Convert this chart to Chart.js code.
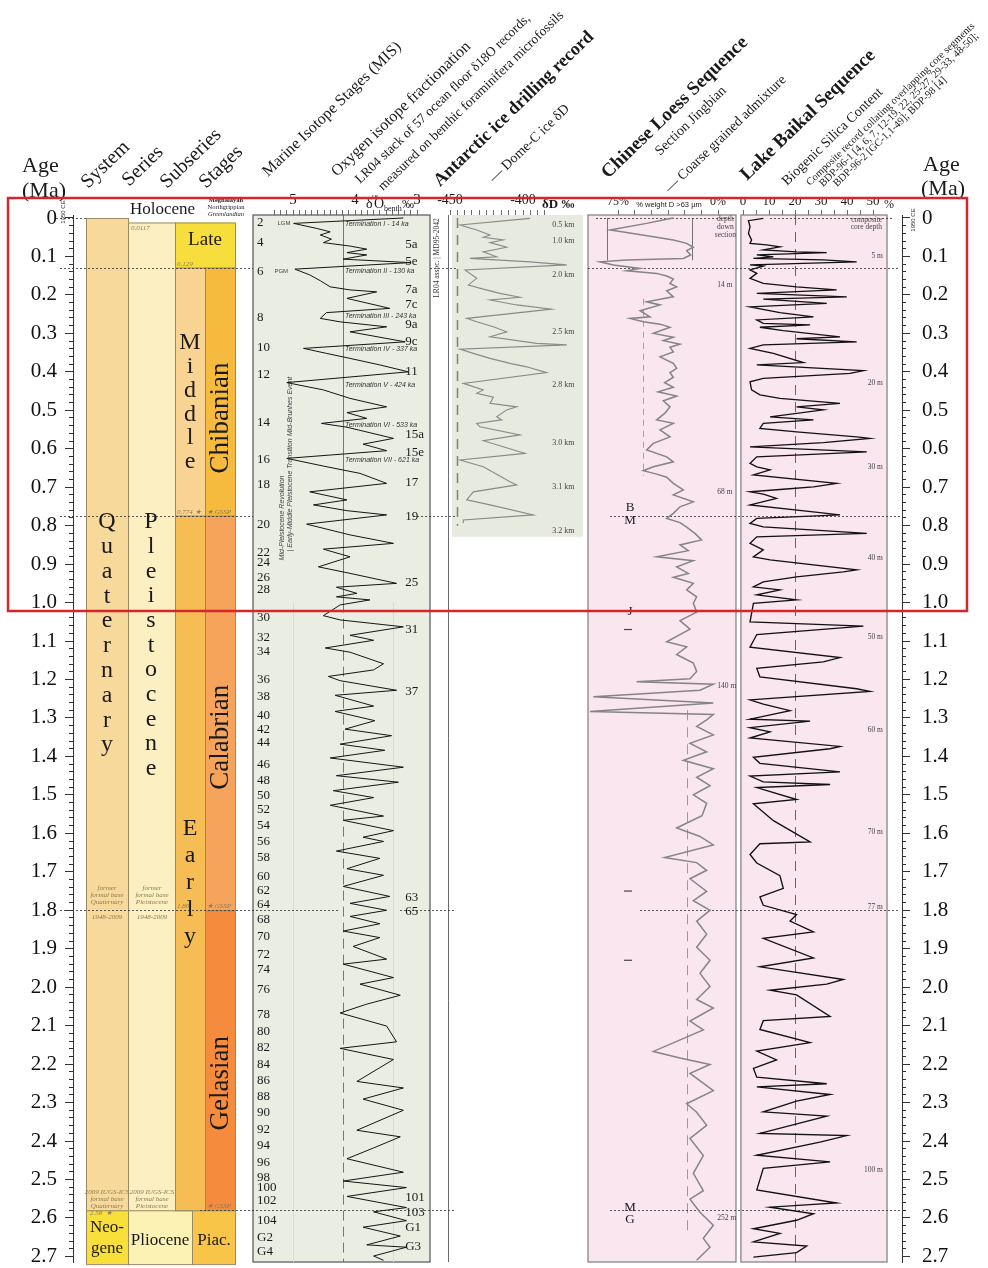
<!DOCTYPE html>
<html>
<head>
<meta charset="utf-8">
<script src="https://cdn.jsdelivr.net/npm/chart.js@4.4.1/dist/chart.umd.min.js"></script>
<style>
  html, body { margin: 0; padding: 0; background: #fff; }
  #chart { display: block; }
</style>
</head>
<body>
<canvas id="chart" width="988" height="1268"></canvas>
<script>
// ---------- data (ages in Ma) ----------
const ageTicks = [0, 0.1, 0.2, 0.3, 0.4, 0.5, 0.6, 0.7, 0.8, 0.9, 1.0, 1.1, 1.2, 1.3, 1.4,
  1.5, 1.6, 1.7, 1.8, 1.9, 2.0, 2.1, 2.2, 2.3, 2.4, 2.5, 2.6, 2.7];

// chronostratigraphic units
const unitNames = ['Quaternary', 'Neogene', 'Pleistocene', 'Pliocene', 'Late', 'Middle', 'Early',
  'Chibanian', 'Calabrian', 'Gelasian', 'Piac.'];
const unitTop  = [0, 2.58, 0.0117, 2.58, 0.0117, 0.129, 0.774, 0.129, 0.774, 1.80, 2.58];
const unitBase = [2.58, 2.72, 2.58, 2.72, 0.129, 0.774, 2.58, 0.774, 1.80, 2.58, 2.72];
const boundaryAges = [0, 0.129, 0.774, 1.80, 2.58];

// LR04 benthic d18O stack
const lr04Age = [0.000, 0.014, 0.027, 0.036, 0.044, 0.055, 0.064, 0.073, 0.081, 0.090, 0.096, 0.107, 0.116,
  0.133, 0.148, 0.163, 0.179, 0.187, 0.192, 0.209, 0.235, 0.246, 0.261, 0.270, 0.283, 0.296, 0.322, 0.339,
  0.352, 0.365, 0.382, 0.400, 0.428, 0.447, 0.469, 0.491, 0.506, 0.521, 0.534, 0.544, 0.573, 0.588, 0.605,
  0.625, 0.645, 0.664, 0.690, 0.712, 0.733, 0.746, 0.761, 0.772, 0.796, 0.824, 0.846, 0.861, 0.881, 0.907,
  0.924, 0.950, 0.960, 0.976, 0.985, 0.993, 1.006,
  1.034, 1.045, 1.063, 1.085, 1.098, 1.118, 1.129, 1.159, 1.175, 1.192, 1.203, 1.228, 1.241, 1.269, 1.283,
  1.307, 1.329, 1.346, 1.368, 1.384, 1.404, 1.428, 1.450, 1.467, 1.489, 1.507, 1.527, 1.555, 1.566, 1.593,
  1.610, 1.621, 1.646, 1.665, 1.692, 1.709, 1.738, 1.764, 1.782, 1.800, 1.816, 1.835, 1.854, 1.871, 1.894,
  1.927, 1.940, 1.975, 1.992, 2.021, 2.044, 2.067, 2.101, 2.142, 2.159, 2.188, 2.245, 2.262, 2.291, 2.320,
  2.372, 2.389, 2.418, 2.446, 2.481, 2.504, 2.521, 2.544, 2.573, 2.584, 2.607, 2.624, 2.647, 2.670, 2.676,
  2.699, 2.710];
const lr04D18O = [3.22, 4.99, 4.62, 4.40, 4.56, 4.38, 4.51, 4.08, 3.81, 4.13, 3.81, 4.19, 3.11,
  4.97, 4.73, 4.56, 4.40, 4.08, 3.65, 4.13, 3.44, 4.46, 4.56, 4.24, 3.49, 4.08, 3.19, 4.83,
  4.46, 4.08, 3.60, 3.14, 5.10, 4.51, 4.08, 3.49, 4.13, 3.81, 4.54, 4.13, 3.38, 3.87, 3.49,
  5.10, 4.51, 3.92, 3.49, 4.73, 4.13, 4.67, 4.13, 3.49, 4.78, 4.08, 3.38, 4.51, 4.08, 4.59,
  4.08, 3.33, 4.30, 3.97, 4.30, 3.76, 4.24,
  4.51, 4.24, 3.22, 4.08, 3.70, 4.48, 4.08, 3.54, 3.70, 4.43, 4.24, 3.33, 4.32, 3.70, 4.32,
  3.68, 4.16, 3.41, 4.24, 3.52, 4.40, 3.22, 4.30, 3.30, 4.35, 3.70, 4.40, 3.54, 4.19, 3.38,
  3.87, 3.54, 4.30, 3.60, 4.13, 3.54, 4.19, 3.44, 4.08, 3.49, 4.08, 3.60, 4.19, 3.60, 4.03,
  3.49, 4.19, 3.38, 3.92, 3.27, 3.81, 4.24, 3.49, 3.33, 4.24, 3.38, 3.97, 3.22, 3.87, 3.22,
  3.97, 3.27, 3.70, 4.13, 3.22, 4.19, 3.17, 4.13, 3.17, 3.70, 3.17, 3.87, 3.27, 3.81, 3.17,
  3.70, 3.54];

// Dome-C ice core dD
const dcAge = [0.001, 0.018, 0.031, 0.044, 0.050, 0.057, 0.064, 0.076, 0.088, 0.101, 0.105, 0.114, 0.122,
  0.135, 0.157, 0.174, 0.185, 0.196, 0.206, 0.213, 0.226, 0.237, 0.261, 0.270, 0.283, 0.296, 0.309, 0.326,
  0.330, 0.341, 0.352, 0.365, 0.378, 0.387, 0.402, 0.430, 0.447, 0.456, 0.466, 0.482, 0.491, 0.499, 0.517,
  0.525, 0.534, 0.543, 0.564, 0.579, 0.595, 0.612, 0.629, 0.647, 0.686, 0.694, 0.712, 0.733, 0.746, 0.772,
  0.785, 0.794];
const dcDeltaD = [-395.2, -443.2, -431.7, -422.6, -427.2, -413.5, -422.6, -411.2, -427.2, -418.0, -436.3, -395.2, -370.1,
  -439.7, -431.7, -437.4, -427.2, -415.8, -402.1, -422.6, -404.3, -380.4, -438.6, -431.7, -420.3, -411.2, -422.6, -390.6,
  -370.1, -443.2, -434.0, -422.6, -408.9, -397.5, -383.8, -440.9, -427.2, -431.7, -420.3, -422.6, -404.3, -411.2, -418.0,
  -414.6, -431.7, -429.5, -402.1, -427.2, -413.5, -398.6, -443.2, -427.2, -408.9, -404.3, -434.0, -438.6, -422.6, -392.9,
  -440.9, -440.9];

// Chinese loess, Jingbian: coarse grained admixture (% weight > 63 um)
const loessAge = [0.000, 0.003, 0.014, 0.031, 0.038, 0.049, 0.057, 0.066, 0.076, 0.085, 0.096, 0.105, 0.109,
  0.114, 0.122, 0.131, 0.137, 0.144, 0.151, 0.159, 0.170, 0.179, 0.189, 0.205, 0.218, 0.226, 0.241, 0.257,
  0.261, 0.270, 0.276, 0.284, 0.300, 0.310, 0.319, 0.328, 0.336, 0.348, 0.361, 0.378, 0.391, 0.402, 0.414,
  0.428, 0.440, 0.452, 0.463, 0.475, 0.491, 0.508, 0.525, 0.534, 0.551, 0.569, 0.586, 0.603, 0.621, 0.634,
  0.647, 0.657, 0.666, 0.674, 0.690, 0.707, 0.720, 0.738, 0.751, 0.768, 0.781, 0.792, 0.804, 0.820, 0.837,
  0.850, 0.865, 0.881, 0.891, 0.907, 0.924, 0.934, 0.950, 0.967, 0.985, 1.002,
  1.025, 1.047, 1.069, 1.102, 1.115, 1.135, 1.157, 1.179, 1.198, 1.206, 1.212, 1.228, 1.245, 1.261, 1.283,
  1.291, 1.305, 1.322, 1.344, 1.366, 1.388, 1.410, 1.432, 1.454, 1.476, 1.500, 1.522, 1.554, 1.586, 1.608,
  1.630, 1.663, 1.676, 1.696, 1.718, 1.751, 1.775, 1.800, 1.828, 1.862, 1.896, 1.930, 1.964, 1.998, 2.032,
  2.054, 2.088, 2.111, 2.167, 2.184, 2.201, 2.224, 2.269, 2.303, 2.325, 2.359, 2.393, 2.438, 2.484, 2.529,
  2.551, 2.585, 2.602, 2.619, 2.653, 2.676, 2.710];
const loessCoarse = [33.5, 38.5, 53.5, 81, 68.5, 48.5, 33.5, 23.5, 18.5, 23.5, 20.5, 26, 68.5,
  88.5, 78.5, 58.5, 68.5, 46, 38.5, 33.5, 36, 31, 38.5, 33.5, 53.5, 43.5, 58.5, 51,
  66, 56, 43.5, 36, 48.5, 33.5, 41, 28.5, 36, 33.5, 43.5, 33.5, 31, 36, 33.5,
  40, 33.5, 45, 31, 41, 36, 40, 46, 33.5, 43.5, 36, 48.5, 53.5, 38.5, 33.5,
  48.5, 56, 46, 38.5, 33.5, 26, 33.5, 18.5, 28.5, 33.5, 38.5, 28.5, 23.5, 17.3, 12.3,
  28.5, 22.3, 46, 18.5, 31, 22.3, 33.5, 18.5, 23.5, 16, 18.5,
  16, 28.5, 21, 38.5, 23.5, 31, 18.5, 16, 21, 61, 3.5, 13.5, 93.5, 3.5, 96,
  3.5, 8.5, 16, 3.5, 21, 8.5, 26, 3.5, 16, 6, 18.5, 8.5, 12, 31, 13.5,
  3.5, 40, 16, 8.5, 21, 8.5, 18.5, 6, 16, 8.5, 16, 6, 13.5, 6, 16,
  3.5, 21, 11, 48.5, 28.5, 6, 21, 3.5, 23.5, 16, 8.5, 21, 11, 18.5, 11,
  21, 13.5, 8.5, 3.5, 11, 6, 16];
const loessMarkAge = [1.07, 1.75, 1.93];
const loessMarkValue = 67.5;

// Lake Baikal biogenic silica (%)
const baikalAge = [0.001, 0.007, 0.023, 0.040, 0.057, 0.066, 0.070, 0.075, 0.083, 0.088, 0.090, 0.096, 0.101,
  0.105, 0.109, 0.114, 0.122, 0.125, 0.135, 0.144, 0.157, 0.170, 0.179, 0.187, 0.196, 0.205, 0.211, 0.222,
  0.231, 0.246, 0.257, 0.265, 0.274, 0.278, 0.284, 0.293, 0.309, 0.314, 0.322, 0.330, 0.339, 0.352, 0.376,
  0.382, 0.397, 0.404, 0.417, 0.426, 0.447, 0.460, 0.469, 0.482, 0.491, 0.499, 0.517, 0.525, 0.534, 0.547,
  0.556, 0.569, 0.573, 0.584, 0.595, 0.608, 0.621, 0.638, 0.647, 0.655, 0.668, 0.690, 0.699, 0.706, 0.712,
  0.718, 0.729, 0.746, 0.766, 0.772, 0.781, 0.794, 0.803, 0.820, 0.829, 0.846, 0.863, 0.881, 0.889, 0.915,
  0.920, 0.933, 0.946, 0.959, 0.967, 0.980, 0.993, 1.002,
  1.050, 1.061, 1.083, 1.116, 1.143, 1.154, 1.171, 1.193, 1.224, 1.231, 1.253, 1.264, 1.281, 1.303, 1.308,
  1.325, 1.336, 1.352, 1.374, 1.380, 1.402, 1.418, 1.440, 1.451, 1.466, 1.473, 1.481, 1.512, 1.523, 1.567,
  1.622, 1.627, 1.655, 1.677, 1.710, 1.743, 1.765, 1.787, 1.811, 1.828, 1.856, 1.873, 1.924, 1.947, 1.980,
  1.992, 2.008, 2.020, 2.076, 2.087, 2.110, 2.144, 2.166, 2.189, 2.211, 2.234, 2.251, 2.259, 2.279, 2.296,
  2.324, 2.335, 2.380, 2.386, 2.403, 2.437, 2.454, 2.471, 2.527, 2.561, 2.572, 2.589, 2.606, 2.628, 2.640,
  2.662, 2.673, 2.690, 2.702];
const baikalSilica = [7.8, 2.1, 2.7, 2.1, 3.3, 2.7, 9.1, 14.2, 7.8, 20.6, 32.2, 5.3, 11.7,
  4.0, 30.9, 43.7, 2.7, 7.8, 2.7, 5.3, 2.7, 7.8, 20.6, 36.0, 5.3, 39.9, 7.8, 32.2,
  2.7, 14.2, 27.1, 5.3, 7.8, 25.8, 6.5, 15.5, 37.3, 20.6, 43.7, 7.8, 2.7, 11.7, 23.2,
  5.3, 46.3, 41.2, 7.8, 2.7, 3.3, 6.5, 14.2, 37.3, 20.6, 30.9, 10.4, 27.1, 7.8, 6.5,
  20.6, 43.7, 48.8, 30.9, 2.7, 47.6, 5.3, 2.7, 5.3, 10.4, 4.0, 36.0, 27.1, 14.2, 2.7,
  7.8, 12.9, 2.7, 29.6, 37.3, 5.3, 2.7, 7.8, 47.6, 5.3, 2.7, 7.8, 4.0, 10.4, 43.7,
  38.6, 20.6, 7.8, 4.0, 14.2, 5.3, 20.6, 4.0,
  2.7, 46.3, 5.3, 2.7, 37.3, 30.9, 5.3, 6.5, 43.7, 48.8, 2.7, 7.8, 18.1, 2.7, 25.8,
  2.7, 10.4, 2.7, 37.3, 33.5, 4.0, 6.5, 37.3, 2.7, 7.8, 33.5, 5.3, 20.6, 4.0, 11.7,
  25.8, 6.5, 2.7, 5.3, 14.2, 15.5, 6.5, 7.8, 20.6, 18.1, 27.1, 7.8, 27.1, 6.5, 38.6,
  32.2, 10.4, 20.6, 33.5, 7.8, 6.5, 25.8, 5.3, 12.9, 4.0, 5.3, 32.2, 5.3, 33.5, 20.6,
  7.8, 32.2, 6.5, 39.9, 29.6, 5.3, 33.5, 7.8, 5.3, 36.0, 10.4, 27.1, 20.6, 4.0, 14.2,
  4.0, 24.5, 20.6, 4.0];

// marine isotope stage labels
const misEven = ['2', '4', '6', '8', '10', '12', '14', '16', '18', '20', '22', '24', '26', '28', '30', '32', '34',
  '36', '38', '40', '42', '44', '46', '48', '50', '52', '54', '56', '58', '60', '62', '64', '68', '70', '72', '74',
  '76', '78', '80', '82', '84', '86', '88', '90', '92', '94', '96', '98', '100', '102', '104', 'G2', 'G4'];
const misEvenAge = [0.013, 0.065, 0.140, 0.260, 0.338, 0.408, 0.533, 0.629, 0.694, 0.798, 0.871, 0.897, 0.936,
  0.967, 1.040, 1.092, 1.128, 1.201, 1.245, 1.295, 1.329, 1.365, 1.422, 1.464, 1.503, 1.539, 1.581, 1.622,
  1.664, 1.713, 1.750, 1.786, 1.825, 1.869, 1.914, 1.955, 2.007, 2.072, 2.116, 2.156, 2.200, 2.244, 2.285,
  2.327, 2.369, 2.413, 2.455, 2.496, 2.522, 2.556, 2.608, 2.650, 2.688];
const misPeak = ['5a', '5e', '7a', '7c', '9a', '9c', '11', '15a', '15e', '17', '19', '25', '31', '37', '63', '65',
  '101', '103', 'G1', 'G3'];
const misPeakAge = [0.070, 0.114, 0.187, 0.226, 0.278, 0.322, 0.400, 0.564, 0.611, 0.689, 0.777, 0.949, 1.071,
  1.232, 1.768, 1.804, 2.548, 2.587, 2.626, 2.675];
const termLabels = ['Termination I - 14 ka', 'Termination II - 130 ka', 'Termination III - 243 ka',
  'Termination IV - 337 ka', 'Termination V - 424 ka', 'Termination VI - 533 ka', 'Termination VII - 621 ka'];
const termAge = [0.016, 0.138, 0.255, 0.341, 0.434, 0.538, 0.629];

// depth annotations
const dcDepth = ['0.5 km', '1.0 km', '2.0 km', '2.5 km', '2.8 km', '3.0 km', '3.1 km', '3.2 km'];
const dcDepthAge = [0.018, 0.060, 0.148, 0.296, 0.434, 0.585, 0.699, 0.814];
const loessDepth = ['14 m', '68 m', '140 m', '252 m'];
const loessDepthAge = [0.174, 0.712, 1.217, 2.600];
const baikalDepth = ['5 m', '20 m', '30 m', '40 m', '50 m', '60 m', '70 m', '77 m', '100 m'];
const baikalDepthAge = [0.099, 0.429, 0.647, 0.884, 1.089, 1.331, 1.596, 1.791, 2.475];
const polarity = ['B', 'M', 'J', 'M', 'G'];
const polarityAge = [0.754, 0.788, 1.024, 2.574, 2.605];

// ---------- layout & style ----------
const SERIF = "'Liberation Serif', 'DejaVu Serif', serif";
const SANS = "'Liberation Sans', 'DejaVu Sans', sans-serif";
const L = 73, R = 902;               // plot area edges (px)
const ageMin = -0.0078, ageMax = 2.7145;

function mapRange(p0, v0, p1, v1) {
  const k = (v1 - v0) / (p1 - p0);
  const a = v0 + (L - p0) * k, b = v0 + (R - p0) * k;
  return k > 0 ? { min: a, max: b, reverse: false } : { min: b, max: a, reverse: true };
}
const rLR = mapRange(293, 5, 417, 3);
const rDC = mapRange(450, -450, 523, -400);
const rLS = mapRange(618, 75, 718, 0);
const rBK = mapRange(743, 0, 795, 20);

const unitSpan = {
  Quaternary: [86, 128], Neogene: [86, 128], Pleistocene: [128, 175], Pliocene: [128, 192],
  Late: [175, 235], Middle: [175, 205], Early: [175, 205],
  Chibanian: [205, 235], Calabrian: [205, 235], Gelasian: [205, 235], 'Piac.': [192, 235]
};
const unitColor = {
  Quaternary: '#F8D99C', Neogene: '#F9DF3A', Pleistocene: '#FCEFC2', Pliocene: '#FCF2B4',
  Late: '#F8DE3C', Middle: '#F9D391', Early: '#F7BD55',
  Chibanian: '#F6BA3E', Calabrian: '#F6A35B', Gelasian: '#F58C3D', 'Piac.': '#F8C548'
};
const boundarySpans = [
  [[56, 86], [596, 736], [770, 892]],
  [[60, 253], [430, 456], [588, 900]],
  [[60, 253], [413, 456], [610, 900]],
  [[60, 340], [400, 456], [640, 900]],
  [[200, 456], [610, 900]]
];
const panels = [
  { axis: 'xLR', from: 5.645, to: 2.79, top: ageMin, base: ageMax, fill: '#EAEDE2', stroke: '#555' },
  { axis: 'xDC', from: -448.6, to: -358.9, top: ageMin, base: 0.829, fill: '#E7EADE', stroke: null },
  { axis: 'xLS', from: 97.5, to: -13.5, top: ageMin, base: ageMax, fill: '#FAE6EE', stroke: '#7d7d7d' },
  { axis: 'xBK', from: -0.8, to: 55.4, top: ageMin, base: ageMax, fill: '#FAE6EE', stroke: '#7d7d7d' }
];
const refLines = [
  { axis: 'xLR', v: 5.0, from: 1.0, to: ageMax, color: '#d9dccf', w: 1, dash: [] },
  { axis: 'xLR', v: 3.39, from: 1.0, to: ageMax, color: '#d9dccf', w: 1, dash: [] },
  { axis: 'xLR', v: 4.19, from: ageMin, to: 1.0, color: '#6a6a6a', w: 0.9, dash: [] },
  { axis: 'xLR', v: 4.19, from: 1.0, to: ageMax, color: '#6a6a6a', w: 0.9, dash: [10, 6] },
  { axis: 'xDC', v: -451.4, from: ageMin, to: ageMax, color: '#6a6a6a', w: 1, dash: [] },
  { axis: 'xDC', v: -445.4, from: 0.0, to: 0.80, color: '#808080', w: 1.5, dash: [10, 7] },
  { axis: 'xLS', v: 83.5, from: 0.0, to: 0.11, color: '#555', w: 0.8, dash: [] },
  { axis: 'xLS', v: 19.25, from: 0.0, to: 0.11, color: '#555', w: 0.8, dash: [] },
  { axis: 'xLS', v: 56.3, from: 0.21, to: 0.67, color: '#9a9a9a', w: 0.9, dash: [6, 5] },
  { axis: 'xLS', v: 23.5, from: 1.28, to: 2.64, color: '#9a9a9a', w: 1, dash: [10, 7] },
  { axis: 'xBK', v: 20, from: ageMin, to: ageMax, color: '#555', w: 0.9, dash: [10, 7] }
];
const letterCols = [
  { text: 'Quaternary', x: 107, age: 0.790, step: 24.8 },
  { text: 'Pleistocene', x: 151, age: 0.790, step: 24.7 },
  { text: 'Middle', x: 190, age: 0.325, step: 23.8 },
  { text: 'Early', x: 190, age: 1.589, step: 27 }
];
const stageNames = [['Chibanian', 0.52], ['Calabrian', 1.35], ['Gelasian', 2.25]];

// ---------- helpers ----------
function put(ctx, s, x, y, font, o = {}) {
  ctx.save();
  ctx.font = font;
  ctx.fillStyle = o.color || '#1a1a1a';
  ctx.textAlign = o.align || 'left';
  ctx.textBaseline = o.base || 'alphabetic';
  ctx.translate(x, y);
  if (o.rot) ctx.rotate(o.rot * Math.PI / 180);
  ctx.fillText(s, 0, 0);
  ctx.restore();
}
function series(axis, ages, vals, color, w) {
  return {
    xAxisID: axis, yAxisID: 'y', showLine: true, borderColor: color, borderWidth: w,
    pointRadius: 0, tension: 0, fill: false,
    data: ages.map((a, i) => ({ x: vals[i], y: a }))
  };
}
function topAxis(r, step, lo, hi, label, size) {
  return {
    type: 'linear', position: 'top', min: r.min, max: r.max, reverse: r.reverse,
    afterFit: s => { s.height = 0; s.paddingLeft = 0; s.paddingRight = 0; },
    afterBuildTicks: s => { s.ticks = s.ticks.filter(t => t.value >= lo - 1e-6 && t.value <= hi + 1e-6); },
    border: { display: false },
    grid: { drawOnChartArea: false, tickLength: 5, color: '#444', lineWidth: 0.8 },
    ticks: { stepSize: step, autoSkip: false, maxRotation: 0, minRotation: 0, padding: 1,
      color: '#1a1a1a', font: { family: SERIF, size }, callback: label }
  };
}
function ageAxis(position, width, weight, major) {
  return {
    type: 'linear', position, reverse: true, min: ageMin, max: ageMax, weight,
    afterFit: s => { s.width = width; s.paddingTop = 0; s.paddingBottom = 0; },
    afterBuildTicks: major
      ? s => { s.ticks = ageTicks.map(v => ({ value: v })); }
      : s => { s.ticks = s.ticks.filter(t => t.value >= -1e-6 && t.value <= 2.7 + 1e-6); },
    border: { display: major, color: '#333', width: 1 },
    grid: { drawOnChartArea: false, tickLength: major ? 8 : 4, color: '#333', lineWidth: 1 },
    ticks: major
      ? { color: '#111', padding: position === 'left' ? 8 : 12, font: { family: SERIF, size: 21 },
          callback: v => (v === 0 ? '0' : v.toFixed(1)) }
      : { display: false, stepSize: 0.02, includeBounds: false }
  };
}

// ---------- drawing plugin ----------
const decor = {
  id: 'decor',
  afterLayout(chart) {
    // top axes were fitted with zero height; give their label strip room so it is not clipped
    Object.values(chart.scales).forEach(s => {
      if (s.options.position === 'top' && s.options.display) s.top = s.bottom - 30;
    });
  },
  beforeDatasetsDraw(chart) {
    const { ctx, scales } = chart;
    const y = scales.y, xs = scales.xS;
    // strat units
    unitNames.forEach((n, i) => {
      const [a, b] = unitSpan[n];
      const x0 = xs.getPixelForValue(a), x1 = xs.getPixelForValue(b);
      const y0 = y.getPixelForValue(unitTop[i]), y1 = y.getPixelForValue(unitBase[i]);
      ctx.fillStyle = unitColor[n];
      ctx.fillRect(x0, y0, x1 - x0, y1 - y0);
      ctx.strokeStyle = '#9a8865';
      ctx.lineWidth = 1;
      ctx.strokeRect(x0 + 0.5, y0 + 0.5, x1 - x0, y1 - y0);
    });
    // panels
    panels.forEach(p => {
      const sx = scales[p.axis];
      const a = sx.getPixelForValue(p.from), b = sx.getPixelForValue(p.to);
      const x0 = Math.min(a, b), w = Math.abs(b - a);
      const y0 = y.getPixelForValue(p.top), y1 = y.getPixelForValue(p.base);
      ctx.fillStyle = p.fill;
      ctx.fillRect(x0, y0, w, y1 - y0);
      if (p.stroke) {
        ctx.strokeStyle = p.stroke;
        ctx.lineWidth = 1.2;
        ctx.strokeRect(x0, y0, w, y1 - y0);
      }
    });
    // reference lines
    refLines.forEach(r => {
      const x = Math.round(scales[r.axis].getPixelForValue(r.v)) + 0.5;
      ctx.save();
      ctx.strokeStyle = r.color; ctx.lineWidth = r.w; ctx.setLineDash(r.dash);
      ctx.beginPath();
      ctx.moveTo(x, y.getPixelForValue(r.from));
      ctx.lineTo(x, y.getPixelForValue(r.to));
      ctx.stroke();
      ctx.restore();
    });
    // boundary dotted lines
    ctx.save();
    ctx.strokeStyle = '#333'; ctx.lineWidth = 0.8; ctx.setLineDash([2, 2]);
    boundaryAges.forEach((age, i) => {
      const yy = Math.round(y.getPixelForValue(age)) + 0.5;
      boundarySpans[i].forEach(([a, b]) => {
        ctx.beginPath();
        ctx.moveTo(xs.getPixelForValue(a), yy);
        ctx.lineTo(xs.getPixelForValue(b), yy);
        ctx.stroke();
      });
    });
    ctx.restore();
  },
  afterDatasetsDraw(chart) {
    const { ctx, scales } = chart;
    const y = scales.y, xs = scales.xS;
    const X = (ax, v) => scales[ax].getPixelForValue(v);
    const Y = a => y.getPixelForValue(a);

    // strat labels
    letterCols.forEach(c => {
      const y0 = Y(c.age);
      [...c.text].forEach((ch, i) => put(ctx, ch, xs.getPixelForValue(c.x), y0 + i * c.step,
        `24px ${SERIF}`, { align: 'center', base: 'middle' }));
    });
    stageNames.forEach(([n, a]) => put(ctx, n, xs.getPixelForValue(221), Y(a), `27px ${SERIF}`,
      { align: 'center', base: 'middle', rot: -90 }));
    put(ctx, 'Late', 205, Y(0.058), `19px ${SERIF}`, { align: 'center', base: 'middle' });
    put(ctx, 'Holocene', 130, 214, `17px ${SERIF}`);
    put(ctx, 'Meghalayan', 226, 202, `bold 6.5px ${SERIF}`, { align: 'center' });
    put(ctx, 'Northgrippian', 226, 209, `6.5px ${SERIF}`, { align: 'center' });
    put(ctx, 'Greenlandian', 226, 216, `italic 6.5px ${SERIF}`, { align: 'center' });
    put(ctx, 'Neo-', 107, Y(2.62) + 6, `17px ${SERIF}`, { align: 'center' });
    put(ctx, 'gene', 107, Y(2.675) + 6, `17px ${SERIF}`, { align: 'center' });
    put(ctx, 'Pliocene', 160, Y(2.655) + 6, `17px ${SERIF}`, { align: 'center' });
    put(ctx, 'Piac.', 214, Y(2.655) + 6, `17px ${SERIF}`, { align: 'center' });
    const tiny = `italic 7px ${SERIF}`, tc = { color: '#8d7b52' };
    put(ctx, '0.0117', 131, Y(0.0117) + 8, tiny, tc);
    put(ctx, '0.129', 177, Y(0.129) - 2, tiny, tc);
    put(ctx, '0.774 \u2605', 177, Y(0.774) - 2, tiny, tc);
    put(ctx, '\u2605 GSSP', 207, Y(0.774) - 2, tiny, tc);
    put(ctx, '1.80', 177, Y(1.80) - 2, tiny, tc);
    put(ctx, '\u2605 GSSP', 207, Y(1.80) - 2, tiny, tc);
    put(ctx, '\u2605 GSSP', 207, Y(2.58) - 2, tiny, tc);
    [['former', -20], ['formal base', -13], ['Quaternary', -6], ['1948-2009', 9]].forEach(([t, d]) =>
      put(ctx, t, 107, Y(1.80) + d, tiny, { ...tc, align: 'center' }));
    [['former', -20], ['formal base', -13], ['Pleistocene', -6], ['1948-2009', 9]].forEach(([t, d]) =>
      put(ctx, t, 152, Y(1.80) + d, tiny, { ...tc, align: 'center' }));
    [['2009 IUGS-ICS', -16], ['formal base', -9], ['Quaternary', -2]].forEach(([t, d]) =>
      put(ctx, t, 107, Y(2.58) + d, tiny, { ...tc, align: 'center' }));
    [['2009 IUGS-ICS', -16], ['formal base', -9], ['Pleistocene', -2]].forEach(([t, d]) =>
      put(ctx, t, 152, Y(2.58) + d, tiny, { ...tc, align: 'center' }));
    put(ctx, '2.58  \u2605', 90, Y(2.58) + 5, tiny, tc);

    // LR04 panel annotations
    const mis = `13px ${SERIF}`;
    misEven.forEach((t, i) => put(ctx, t, X('xLR', 5.58), Y(misEvenAge[i]), mis, { base: 'middle' }));
    misPeak.forEach((t, i) => put(ctx, t, X('xLR', 3.19), Y(misPeakAge[i]), mis, { base: 'middle' }));
    termLabels.forEach((t, i) => put(ctx, t, X('xLR', 4.16), Y(termAge[i]), `italic 7px ${SANS}`,
      { base: 'middle', color: '#333' }));
    put(ctx, 'LGM', X('xLR', 5.25), Y(0.014), `6px ${SANS}`, { base: 'middle', color: '#444' });
    put(ctx, 'PGM', X('xLR', 5.3), Y(0.138), `6px ${SANS}`, { base: 'middle', color: '#444' });
    put(ctx, 'Mid-Pleistocene Revolution', X('xLR', 5.18), Y(0.78), `italic 7px ${SANS}`,
      { align: 'center', base: 'middle', rot: -90, color: '#444' });
    put(ctx, '| Early-Middle Pleistocene Transition', X('xLR', 5.05), Y(0.72), `italic 7px ${SANS}`,
      { align: 'center', base: 'middle', rot: -90, color: '#444' });
    put(ctx, 'Mid-Brunhes Event', X('xLR', 5.05), Y(0.49), `italic 7px ${SANS}`,
      { align: 'center', base: 'middle', rot: -90, color: '#444' });
    put(ctx, 'LR04 assoc. | MD95-2042', 437, 258, `7.5px ${SERIF}`,
      { align: 'center', base: 'middle', rot: -90, color: '#333' });

    // Dome-C / loess / Baikal annotations
    dcDepth.forEach((t, i) => put(ctx, t, X('xDC', -380), Y(dcDepthAge[i]), `8px ${SERIF}`,
      { base: 'middle', color: '#444' }));
    loessDepth.forEach((t, i) => put(ctx, t, X('xLS', 0.5), Y(loessDepthAge[i]), `7.5px ${SERIF}`,
      { base: 'middle', color: '#444' }));
    ['depth', 'down', 'section'].forEach((t, i) => put(ctx, t, X('xLS', -5.5), 221 + i * 8,
      `7.5px ${SERIF}`, { align: 'center', color: '#444' }));
    polarity.forEach((t, i) => put(ctx, t, X('xLS', 66), Y(polarityAge[i]), `13px ${SERIF}`,
      { align: 'center', base: 'middle' }));
    baikalDepth.forEach((t, i) => put(ctx, t, X('xBK', 53.8), Y(baikalDepthAge[i]), `7.5px ${SERIF}`,
      { align: 'right', base: 'middle', color: '#444' }));
    put(ctx, 'composite', X('xBK', 53.5), 222, `7.5px ${SERIF}`, { align: 'right', color: '#444' });
    put(ctx, 'core depth', X('xBK', 53.5), 229, `7.5px ${SERIF}`, { align: 'right', color: '#444' });
  },
  afterDraw(chart) {
    const { ctx } = chart;
    // axis titles above the panels
    put(ctx, '\u03B4', 366, 208, `14px ${SERIF}`);
    put(ctx, '18', 371, 199, `7px ${SERIF}`);
    put(ctx, 'O', 374, 208, `14px ${SERIF}`);
    put(ctx, 'benth', 384, 211, `8px ${SERIF}`);
    put(ctx, '\u2030', 402, 208, `12px ${SERIF}`);
    put(ctx, '\u03B4D \u2030', 542, 208, `bold 13px ${SERIF}`);
    put(ctx, '% weight D >63 \u00B5m', 669, 207, `7.5px ${SANS}`, { align: 'center' });
    put(ctx, '%', 884, 208, `12px ${SERIF}`);
    put(ctx, '1950 CE', 63, 212, `6px ${SANS}`, { align: 'center', base: 'middle', rot: -90, color: '#333' });
    put(ctx, '1950 CE', 913, 220, `6px ${SANS}`, { align: 'center', base: 'middle', rot: -90, color: '#333' });

    // rotated column headers
    const A = -44;
    const heads = [
      ['System', 88, 189, `20px ${SERIF}`], ['Series', 129, 187, `20px ${SERIF}`],
      ['Subseries', 167, 189, `20px ${SERIF}`], ['Stages', 206, 189, `20px ${SERIF}`],
      ['Marine Isotope Stages (MIS)', 268, 177, `16px ${SERIF}`],
      ['Oxygen isotope fractionation', 337, 177, `16px ${SERIF}`],
      ['LR04 stack of 57 ocean floor \u03B418O records,', 360, 184, `13.5px ${SERIF}`],
      ['measured on benthic foraminifera microfossils', 383, 191, `13.5px ${SERIF}`],
      ['Antarctic ice drilling record', 440, 187, `bold 18px ${SERIF}`],
      ['\u2014 Dome-C ice \u03B4D', 494, 183, `14px ${SERIF}`],
      ['Chinese Loess Sequence', 608, 179, `bold 19px ${SERIF}`],
      ['Section Jingbian', 660, 156, `14px ${SERIF}`],
      ['\u2014 Coarse grained admixture', 670, 193, `14px ${SERIF}`],
      ['Lake Baikal Sequence', 747, 181, `bold 19px ${SERIF}`],
      ['Biogenic Silica Content', 787, 186, `14px ${SERIF}`],
      ['Composite record collating overlapping core segments', 810, 186, `10.5px ${SERIF}`],
      ['BDP-96-1 [4, 6, 7, 12-19, 22, 25-27, 29-33, 48-50];', 823, 187, `10.5px ${SERIF}`],
      ['BDP-96-2 [GC-1,1-49]; BDP-98 [4]', 837, 187, `10.5px ${SERIF}`]
    ];
    heads.forEach(([t, x, yy, f]) => put(ctx, t, x, yy, f, { rot: A }));
    put(ctx, 'Age', 22, 172, `22px ${SERIF}`);
    put(ctx, '(Ma)', 22, 197, `22px ${SERIF}`);
    put(ctx, 'Age', 923, 171, `22px ${SERIF}`);
    put(ctx, '(Ma)', 921, 195, `22px ${SERIF}`);

    // highlight frame
    ctx.save();
    ctx.strokeStyle = '#D7262B';
    ctx.lineWidth = 2.5;
    ctx.strokeRect(8, 198, 959, 413);
    ctx.restore();
  }
};

// ---------- chart ----------
Chart.defaults.font.family = SERIF;
new Chart(document.getElementById('chart'), {
  type: 'scatter',
  data: {
    datasets: [
      series('xLR', lr04Age, lr04D18O, '#151515', 1),
      series('xDC', dcAge, dcDeltaD, '#8a8a8a', 1.1),
      series('xLS', loessAge, loessCoarse, '#858585', 1.5),
      series('xBK', baikalAge, baikalSilica, '#111', 1.35),
      {
        xAxisID: 'xLS', yAxisID: 'y', showLine: false, pointStyle: 'line', pointRadius: 4,
        borderColor: '#444', borderWidth: 1.2,
        data: loessMarkAge.map(a => ({ x: loessMarkValue, y: a }))
      }
    ]
  },
  options: {
    responsive: false,
    animation: false,
    devicePixelRatio: 1,
    layout: { padding: { top: 215, bottom: 6, left: 0, right: 0 } },
    plugins: { legend: { display: false }, tooltip: { enabled: false } },
    scales: {
      y: ageAxis('left', 73, 1, true),
      yMinor: ageAxis('left', 0, 0, false),
      yRMinor: ageAxis('right', 0, 0, false),
      yR: ageAxis('right', 86, 1, true),
      xS: { type: 'linear', display: false, min: L, max: R },
      xLR: topAxis(rLR, 0.1, 3.0, 5.3,
        v => (Math.abs(v - Math.round(v)) < 1e-6 ? String(Math.round(v)) : ''), 15),
      xDC: topAxis(rDC, 5, -450, -385, v => (v === -450 || v === -400 ? String(v) : ''), 14),
      xLS: topAxis(rLS, 12.5, 0, 75, v => (v === 75 ? '75%' : v === 0 ? '0%' : ''), 12),
      xBK: topAxis(rBK, 5, 0, 50, v => (v % 10 === 0 ? String(v) : ''), 13)
    }
  },
  plugins: [decor]
});
</script>
</body>
</html>
